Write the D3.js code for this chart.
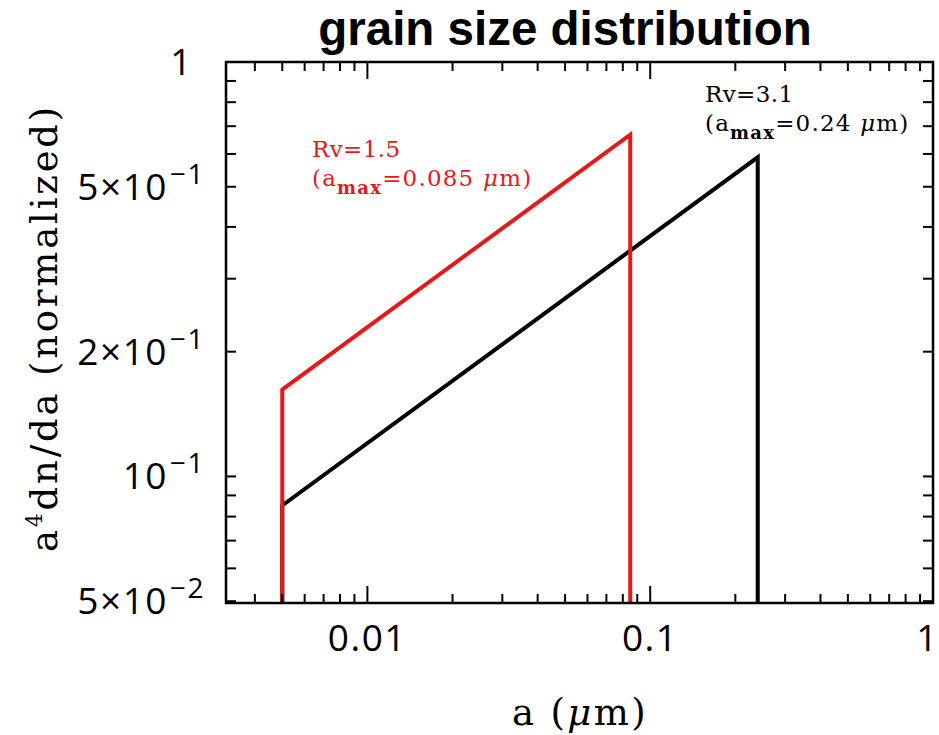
<!DOCTYPE html>
<html>
<head>
<meta charset="utf-8">
<script src="https://cdn.jsdelivr.net/npm/d3@7"></script>
<style>
  html, body { margin: 0; padding: 0; background: #fff; }
  svg { display: block; }
</style>
</head>
<body>
<svg id="chart" width="939" height="735"></svg>
<script>
// Size distributions: a^4 dn/da at the smallest and largest grain size
const seriesNames  = ["Rv=1.5", "Rv=3.1"];
const seriesColors = ["#e61919", "#000000"];
const aMinValues   = [0.005, 0.005];      // μm
const aMaxValues   = [0.085, 0.24];       // μm
const startValues  = [0.162, 0.0851];     // a^4 dn/da at a_min
const endValues    = [0.668, 0.589];      // a^4 dn/da at a_max

// Axis ranges and labelled ticks
const xDomain = [Math.pow(10, -2.5), 1];
const yDomain = [0.0495, 1];
const xTickLabels = [0.01, 0.1, 1];
const yTickValues = [1, 0.5, 0.2, 0.1, 0.05];
const yTickMantissa = ["", "5×", "2×", "", "5×"];
const yTickExponent = ["", "−1", "−1", "−1", "−2"];

const svg = d3.select("#chart");
const plotLeft = 226, plotRight = 933, plotTop = 62, plotBottom = 603;

const x = d3.scaleLog().domain(xDomain).range([plotLeft, plotRight]);
const y = d3.scaleLog().domain(yDomain).range([plotBottom, plotTop]);

// Minor tick positions on log axes
const xMinor = [];
for (let e = -3; e <= -1; e++) for (let m = 2; m <= 9; m++) {
  const v = m * Math.pow(10, e);
  if (v >= xDomain[0] && v <= xDomain[1]) xMinor.push(v);
}
const yTicksAll = [];
for (let e = -2; e <= -1; e++) for (let m = 1; m <= 9; m++) {
  const v = m * Math.pow(10, e);
  if (v >= yDomain[0] && v <= yDomain[1]) yTicksAll.push(v);
}
yTicksAll.push(1);

// Title
svg.append("text")
  .attr("x", 565).attr("y", 45)
  .attr("text-anchor", "middle")
  .attr("font-family", "Liberation Sans, Arial, sans-serif")
  .attr("font-weight", "bold")
  .attr("font-size", 47.5)
  .text("grain size distribution");

// Data curves (black under red)
const line = d3.line().x(d => x(d[0])).y(d => y(d[1]));
const order = [1, 0];
order.forEach(i => {
  const pts = [
    [aMinValues[i], yDomain[0]],
    [aMinValues[i], startValues[i]],
    [aMaxValues[i], endValues[i]],
    [aMaxValues[i], yDomain[0]]
  ];
  svg.append("path")
    .attr("d", line(pts))
    .attr("fill", "none")
    .attr("stroke", seriesColors[i])
    .attr("stroke-width", 4)
    .attr("stroke-linejoin", "miter");
});

// Frame
const frame = svg.append("g").attr("stroke", "#000").attr("stroke-width", 2.5).attr("fill", "none");
frame.append("rect").attr("x", plotLeft).attr("y", plotTop)
  .attr("width", plotRight - plotLeft).attr("height", plotBottom - plotTop);

// X ticks (bottom and top, pointing inward)
const tickG = svg.append("g").attr("stroke", "#000").attr("stroke-width", 2);
xTickLabels.forEach(v => {
  tickG.append("line").attr("x1", x(v)).attr("x2", x(v)).attr("y1", plotBottom).attr("y2", plotBottom - 17);
  tickG.append("line").attr("x1", x(v)).attr("x2", x(v)).attr("y1", plotTop).attr("y2", plotTop + 17);
});
xMinor.forEach(v => {
  tickG.append("line").attr("x1", x(v)).attr("x2", x(v)).attr("y1", plotBottom).attr("y2", plotBottom - 9);
  tickG.append("line").attr("x1", x(v)).attr("x2", x(v)).attr("y1", plotTop).attr("y2", plotTop + 9);
});
// Y ticks (left and right)
yTicksAll.forEach(v => {
  tickG.append("line").attr("x1", plotLeft).attr("x2", plotLeft + 10).attr("y1", y(v)).attr("y2", y(v));
  tickG.append("line").attr("x1", plotRight).attr("x2", plotRight - 10).attr("y1", y(v)).attr("y2", y(v));
});

// X tick labels (the last one is kept inside the page edge)
const tickFont = "Open Sans, DejaVu Sans, sans-serif";
svg.append("g").selectAll("text").data(xTickLabels).join("text")
  .attr("x", (d, i) => i === xTickLabels.length - 1 ? 939 : x(d))
  .attr("y", 651)
  .attr("text-anchor", (d, i) => i === xTickLabels.length - 1 ? "end" : "middle")
  .attr("font-family", tickFont)
  .attr("font-size", 37)
  .attr("letter-spacing", 1.5)
  .text(d => String(d));

// Y tick labels with superscript exponents
yTickValues.forEach((v, i) => {
  const plain = yTickExponent[i] === "";
  const t = svg.append("text")
    .attr("x", plain ? 193 : 205).attr("y", y(v) + 13)
    .attr("text-anchor", "end")
    .attr("font-family", tickFont)
    .attr("font-size", 37)
    .attr("letter-spacing", 1.5);
  if (plain) {
    t.text("1");
  } else {
    t.append("tspan").text(yTickMantissa[i] + "10");
    t.append("tspan").attr("dx", 2).attr("dy", -16).attr("font-size", 28).text(yTickExponent[i]);
  }
});

// Axis titles
const labelFont = "DejaVu Serif, serif";
const xl = svg.append("text")
  .attr("x", 580).attr("y", 725)
  .attr("text-anchor", "middle")
  .attr("font-family", labelFont)
  .attr("font-size", 37)
  .attr("letter-spacing", 2.4);
xl.append("tspan").text("a  (");
xl.append("tspan").attr("font-style", "italic").text("μ");
xl.append("tspan").text("m)");

const yl = svg.append("text")
  .attr("transform", "translate(57,328) rotate(-90)")
  .attr("text-anchor", "middle")
  .attr("font-family", labelFont)
  .attr("font-size", 37)
  .attr("letter-spacing", 2.8);
yl.append("tspan").text("a");
yl.append("tspan").attr("dy", -15).attr("font-size", 22).text("4");
yl.append("tspan").attr("dy", 15).text("dn/da  (normalized)");

// Curve annotations
const annX = [312, 705];
const annY = [157, 102];
[0, 1].forEach(i => {
  const g = svg.append("g")
    .attr("fill", seriesColors[i])
    .attr("font-family", labelFont)
    .attr("font-size", 23);
  g.append("text").attr("x", annX[i]).attr("y", annY[i])
    .attr("letter-spacing", 0.4).text(seriesNames[i]);
  const t = g.append("text").attr("x", annX[i]).attr("y", annY[i] + 29)
    .attr("letter-spacing", 1.2);
  t.append("tspan").text("(a");
  t.append("tspan").attr("dy", 8).attr("font-size", 18).attr("font-weight", "bold").text("max");
  t.append("tspan").attr("dy", -8).text("=" + aMaxValues[i] + "  ");
  t.append("tspan").attr("font-style", "italic").text("μ");
  t.append("tspan").text("m)");
});
</script>
</body>
</html>
